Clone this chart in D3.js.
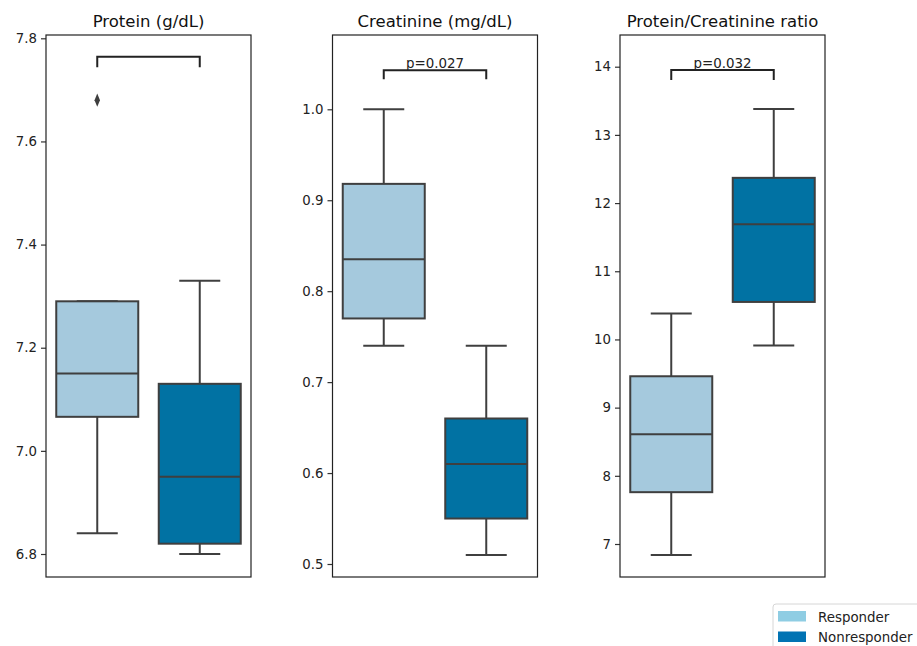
<!DOCTYPE html>
<html><head><meta charset="utf-8">
<script src="https://cdn.jsdelivr.net/npm/d3@7"></script>
<style>
body{margin:0;background:#fff;}
svg{display:block;font-family:"DejaVu Sans",sans-serif;}
</style></head>
<body><svg id="chart" width="917" height="646"></svg>
<script>
const groups = ["Responder", "Nonresponder"];
const titles = ["Protein (g/dL)", "Creatinine (mg/dL)", "Protein/Creatinine ratio"];
// box statistics per panel: [Responder, Nonresponder]
const whiskerLow  = [[6.84, 6.80], [0.74, 0.51], [6.84, 9.91]];
const q1          = [[7.066, 6.82], [0.77, 0.55], [7.76, 10.55]];
const median      = [[7.15, 6.95], [0.835, 0.61], [8.61, 11.69]];
const q3          = [[7.29, 7.13], [0.918, 0.66], [9.46, 12.37]];
const whiskerHigh = [[7.29, 7.33], [1.0, 0.74], [10.38, 13.38]];
const outliers    = [[[7.68], []], [[], []], [[], []]];
const pLabels = ["", "p=0.027", "p=0.032"];
const bracketTop = [7.764, 1.043, 13.952];
const bracketBottom = [7.744, 1.033, 13.805];
const yDomains = [[6.7554, 7.8064], [0.4857, 1.0817], [6.516, 14.465]];
const yTicks = [[6.8, 7.0, 7.2, 7.4, 7.6, 7.8], [0.5, 0.6, 0.7, 0.8, 0.9, 1.0], [7, 8, 9, 10, 11, 12, 13, 14]];
const tickFormats = [".1f", ".1f", "d"];
const boxColors = ["#a5c9dd", "#0172a3"];
const legendColors = ["#8fcde3", "#0173b3"];

const svg = d3.select("#chart");
const panelLeft = [46, 332.5, 620];
const panelWidth = 205;
const plotTop = 35, plotBottom = 577;
const edge = "#3f3f3f";
const lw = 2;

titles.forEach((t, i) => {
  const g = svg.append("g").attr("transform", `translate(${panelLeft[i]},0)`);
  const x = d3.scaleBand().domain(groups).range([0, panelWidth]).paddingInner(0).paddingOuter(0);
  const y = d3.scaleLinear().domain(yDomains[i]).range([plotBottom, plotTop]);
  const bw = x.bandwidth() * 0.8;

  const ax = g.append("g").call(d3.axisLeft(y).tickValues(yTicks[i]).tickFormat(d3.format(tickFormats[i])).tickSize(5).tickPadding(4));
  ax.select(".domain").remove();
  ax.selectAll("text").attr("font-size", 13.3).attr("fill", "#222").attr("font-family", "DejaVu Sans");
  ax.selectAll("line").attr("stroke", "#333").attr("stroke-width", 1.2);

  groups.forEach((grp, k) => {
    const cx = x(grp) + x.bandwidth() / 2;
    const capW = bw / 2;
    const st = sel => sel.attr("stroke", edge).attr("stroke-width", lw);
    st(g.append("line").attr("x1", cx).attr("x2", cx).attr("y1", y(q3[i][k])).attr("y2", y(whiskerHigh[i][k])));
    st(g.append("line").attr("x1", cx).attr("x2", cx).attr("y1", y(q1[i][k])).attr("y2", y(whiskerLow[i][k])));
    st(g.append("line").attr("x1", cx - capW / 2).attr("x2", cx + capW / 2).attr("y1", y(whiskerHigh[i][k])).attr("y2", y(whiskerHigh[i][k])));
    st(g.append("line").attr("x1", cx - capW / 2).attr("x2", cx + capW / 2).attr("y1", y(whiskerLow[i][k])).attr("y2", y(whiskerLow[i][k])));
    st(g.append("rect").attr("x", cx - bw / 2).attr("width", bw)
      .attr("y", y(q3[i][k])).attr("height", y(q1[i][k]) - y(q3[i][k]))
      .attr("fill", boxColors[k]));
    st(g.append("line").attr("x1", cx - bw / 2).attr("x2", cx + bw / 2).attr("y1", y(median[i][k])).attr("y2", y(median[i][k])));
    outliers[i][k].forEach(v => {
      g.append("path").attr("d", d3.symbol(d3.symbolDiamond, 50)()).attr("transform", `translate(${cx},${y(v)}) scale(0.72,1)`).attr("fill", edge);
    });
  });

  const x0 = x(groups[0]) + x.bandwidth() / 2, x1 = x(groups[1]) + x.bandwidth() / 2;
  g.append("path").attr("d", `M${x0},${y(bracketBottom[i])}V${y(bracketTop[i])}H${x1}V${y(bracketBottom[i])}`)
    .attr("fill", "none").attr("stroke", "#222").attr("stroke-width", lw);
  if (pLabels[i]) {
    g.append("text").attr("x", (x0 + x1) / 2).attr("y", y(bracketTop[i]) - 2).attr("text-anchor", "middle")
      .attr("font-size", 13.4).attr("fill", "#222").text(pLabels[i]);
  }

  g.append("rect").attr("x", 0).attr("y", plotTop).attr("width", panelWidth).attr("height", plotBottom - plotTop)
    .attr("fill", "none").attr("stroke", "#222").attr("stroke-width", 1.2);
  g.append("text").attr("x", panelWidth / 2).attr("y", 27).attr("text-anchor", "middle")
    .attr("font-size", 16.5).attr("fill", "#111").text(t);
});

const lg = svg.append("g").attr("transform", "translate(773,604)");
lg.append("rect").attr("x", 0).attr("y", 0).attr("width", 160).attr("height", 48).attr("rx", 3)
  .attr("fill", "#fff").attr("stroke", "#d6d6d6").attr("stroke-width", 1);
groups.forEach((grp, k) => {
  lg.append("rect").attr("x", 5).attr("y", 7 + k * 20.5).attr("width", 28).attr("height", 10.5).attr("fill", legendColors[k]);
  lg.append("text").attr("x", 45).attr("y", 17.5 + k * 20.5).attr("font-size", 13.4).attr("fill", "#222").text(grp);
});
</script>
</body></html>
